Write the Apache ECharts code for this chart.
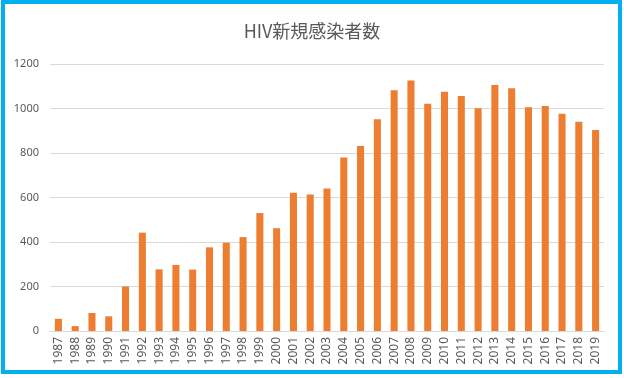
<!DOCTYPE html>
<html>
<head>
<meta charset="utf-8">
<script src="https://cdn.jsdelivr.net/npm/echarts@6/dist/echarts.min.js"></script>
<style>
html,body{margin:0;padding:0;background:#fff;}
#chart{width:624px;height:378px;}
</style>
</head>
<body>
<div id="chart"></div>
<script>
const titleText = 'HIV新規感染者数';
const years = ['1987','1988','1989','1990','1991','1992','1993','1994','1995','1996','1997','1998','1999','2000','2001','2002','2003','2004','2005','2006','2007','2008','2009','2010','2011','2012','2013','2014','2015','2016','2017','2018','2019'];
const infections = [55,22,81,66,200,442,277,297,276,376,397,422,530,462,621,614,640,780,832,952,1082,1126,1021,1075,1056,1001,1106,1091,1006,1011,976,940,903];
const yTicks = {min:0, max:1200, interval:200};

const chart = echarts.init(document.getElementById('chart'), null, {renderer:'canvas'});
chart.setOption({
  animation:false,
  backgroundColor:'#fff',
  title:{
    text:titleText, left:'center', top:17,
    textStyle:{fontFamily:'"Noto Sans CJK JP", sans-serif', fontSize:18, fontWeight:'normal', color:'#595959'}
  },
  graphic:[{
    type:'rect', silent:true,
    shape:{x:3, y:2, width:617, height:370},
    style:{fill:'none', stroke:'#00B0F0', lineWidth:4}
  }],
  grid:{left:50, right:20, top:64, bottom:47, containLabel:false},
  xAxis:{
    type:'category', data:years,
    axisLine:{lineStyle:{color:'#d9d9d9'}},
    axisTick:{show:false},
    axisLabel:{rotate:90, interval:0, color:'#595959', fontSize:12, fontFamily:'"Noto Sans", sans-serif', margin:6}
  },
  yAxis:{
    type:'value', min:yTicks.min, max:yTicks.max, interval:yTicks.interval,
    axisLine:{show:false}, axisTick:{show:false},
    splitLine:{lineStyle:{color:'#d9d9d9'}},
    axisLabel:{color:'#595959', fontSize:11, fontFamily:'"Noto Sans", sans-serif', margin:11, formatter:function(v){return String(v);}}
  },
  series:[{
    type:'bar', data:infections, barWidth:'42%',
    itemStyle:{color:'#ED7D31'}
  }]
});
</script>
</body>
</html>
